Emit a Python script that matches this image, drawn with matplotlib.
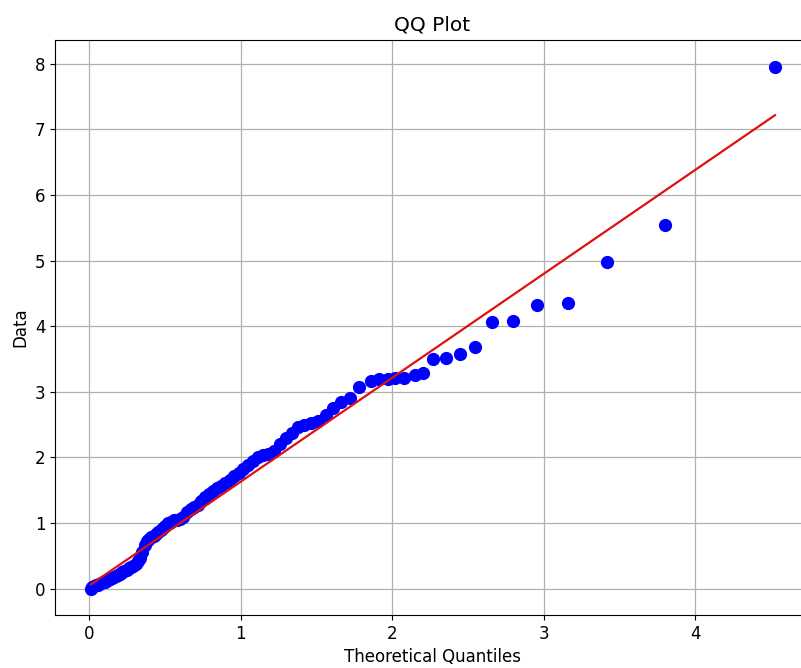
import matplotlib
matplotlib.use("Agg")
import matplotlib.pyplot as plt
import numpy as np

# Theoretical quantiles (x) and ordered data values (y)
theoretical = [
    0.01, 0.02, 0.03, 0.045, 0.055, 0.065, 0.075, 0.09, 0.10, 0.11,
    0.125, 0.135, 0.15, 0.16, 0.175, 0.19, 0.20,
    0.215, 0.23, 0.245, 0.26, 0.275, 0.29, 0.305, 0.32, 0.335, 0.35,
    0.365, 0.38, 0.395, 0.41, 0.425, 0.44, 0.455, 0.47, 0.485, 0.50,
    0.52, 0.54, 0.56, 0.58, 0.60, 0.62, 0.645, 0.67, 0.69, 0.715,
    0.74, 0.765, 0.79, 0.815, 0.84, 0.87, 0.895, 0.925, 0.955, 0.985, 1.015,
    1.045, 1.08, 1.11, 1.145, 1.18, 1.22, 1.26, 1.30, 1.34, 1.38,
    1.42, 1.465, 1.51, 1.56, 1.61, 1.66, 1.72,
    1.78, 1.86, 1.91, 1.97, 2.02, 2.08, 2.15, 2.205,
    2.27, 2.354, 2.447, 2.548, 2.658, 2.795, 2.953, 3.157, 3.415, 3.80, 4.526,
]
data = [
    0.00, 0.02, 0.04, 0.05, 0.06, 0.07, 0.08, 0.10, 0.11, 0.12,
    0.14, 0.15, 0.17, 0.18, 0.20, 0.21, 0.23,
    0.25, 0.27, 0.29, 0.31, 0.33, 0.35, 0.38, 0.42, 0.47, 0.56,
    0.66, 0.72, 0.76, 0.79, 0.81, 0.84, 0.87, 0.90, 0.93, 0.96,
    1.00, 1.02, 1.04, 1.05, 1.06, 1.10, 1.17, 1.22, 1.25, 1.28,
    1.34, 1.40, 1.45, 1.49, 1.53, 1.57, 1.61, 1.66, 1.72, 1.77, 1.83,
    1.89, 1.95, 2.01, 2.04, 2.06, 2.10, 2.20, 2.29, 2.38, 2.46,
    2.50, 2.52, 2.56, 2.65, 2.75, 2.84, 2.90,
    3.08, 3.16, 3.19, 3.19, 3.21, 3.21, 3.26, 3.28,
    3.50, 3.51, 3.58, 3.69, 4.06, 4.08, 4.33, 4.36, 4.98, 5.535, 7.95,
]
line_slope = 1.583
line_intercept = 0.05

x_ticks = [0, 1, 2, 3, 4]
y_ticks = [0, 1, 2, 3, 4, 5, 6, 7, 8]

fig = plt.figure(figsize=(8.01, 6.68), dpi=100)
ax = fig.add_axes([55 / 801, 53 / 668, 755 / 801, 575 / 668])

x = np.array(theoretical)
y = np.array(data)
ax.plot(x, y, "o", color="#0000ff", markersize=8.5, zorder=3)
xl = np.array([x.min(), x.max()])
ax.plot(xl, line_intercept + line_slope * xl, "-", color="#e01010", linewidth=1.6, zorder=4)

ax.set_xlim(-0.227, 4.757)
ax.set_ylim(-0.40, 8.36)
ax.set_xticks(x_ticks)
ax.set_yticks(y_ticks)
ax.grid(True, color="#b0b0b0", linewidth=0.9)
ax.set_axisbelow(True)
ax.set_title("QQ Plot", fontsize=14.5, pad=7)
ax.set_xlabel("Theoretical Quantiles", fontsize=12)
ax.set_ylabel("Data", fontsize=12)
ax.tick_params(labelsize=12)

fig.savefig("out.png", dpi=100)
